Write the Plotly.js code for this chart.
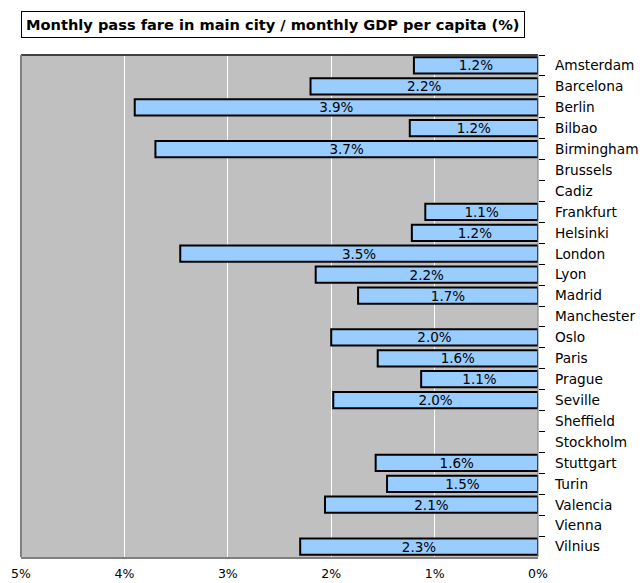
<!DOCTYPE html>
<html><head><meta charset="utf-8">
<script src="https://cdn.plot.ly/plotly-3.0.1.min.js"></script>
<style>html,body{margin:0;padding:0;background:#fff}</style>
</head><body>
<div id="chart" style="width:640px;height:583px"></div>
<script>
const cities = ["Amsterdam","Barcelona","Berlin","Bilbao","Birmingham","Brussels","Cadiz","Frankfurt","Helsinki","London","Lyon","Madrid","Manchester","Oslo","Paris","Prague","Seville","Sheffield","Stockholm","Stuttgart","Turin","Valencia","Vienna","Vilnius"];
const ratio = [1.2,2.2,3.9,1.24,3.7,null,null,1.09,1.22,3.46,2.15,1.74,null,2.0,1.55,1.13,1.98,null,null,1.57,1.46,2.06,null,2.3];
const labels = ["1.2%","2.2%","3.9%","1.2%","3.7%","","","1.1%","1.2%","3.5%","2.2%","1.7%","","2.0%","1.6%","1.1%","2.0%","","","1.6%","1.5%","2.1%","","2.3%"];
const xTicks = [0,1,2,3,4,5];
const xTickText = ["0%","1%","2%","3%","4%","5%"];
const titleText = "Monthly pass fare in main city / monthly GDP per capita (%)";

const font = "DejaVu Sans, Verdana, sans-serif";
Plotly.newPlot("chart", [{
  type: "bar", orientation: "h",
  y: cities, x: ratio, text: labels,
  textposition: "inside", insidetextanchor: "middle", textangle: 0,
  constraintext: "none",
  textfont: {family: font, size: 13.5, color: "#000"},
  marker: {color: "#99CCFF", line: {color: "#000", width: 2}},
  hoverinfo: "none"
}], {
  width: 640, height: 583,
  margin: {l: 21, r: 102, t: 55, b: 26},
  paper_bgcolor: "#fff", plot_bgcolor: "#C0C0C0",
  bargap: 0.22, showlegend: false,
  font: {family: font, size: 13, color: "#000"},
  xaxis: {
    range: [5, 0], tickvals: xTicks, ticktext: xTickText,
    showgrid: true, gridcolor: "#fff", gridwidth: 1,
    zeroline: false, showline: true, linecolor: "#808080", linewidth: 2, mirror: false,
    ticks: "", ticklabelstandoff: 4,
    tickfont: {family: font, size: 12.5, color: "#000"}
  },
  yaxis: {
    type: "category", categoryorder: "array", categoryarray: cities,
    autorange: "reversed", side: "right",
    ticks: "outside", tickson: "boundaries", ticklen: 6, tickcolor: "#000", tickwidth: 1,
    ticklabelstandoff: 16,
    showline: false, showgrid: false, zeroline: false,
    tickfont: {family: font, size: 13.7, color: "#000"}
  },
  shapes: [
    {type: "line", xref: "paper", yref: "paper", x0: 0, x1: 1, y0: 1, y1: 1, line: {color: "#404040", width: 2}},
    {type: "line", xref: "paper", yref: "paper", x0: 0, x1: 0, y0: 0, y1: 1, line: {color: "#808080", width: 2}},
    {type: "line", xref: "paper", yref: "paper", x0: 1, x1: 1, y0: 0, y1: 1, line: {color: "#808080", width: 1}}
  ],
  annotations: [{
    text: "<b>" + titleText + "</b>", xref: "paper", yref: "paper",
    x: 0, y: 1, xanchor: "left", yanchor: "bottom", yshift: 17,
    showarrow: false, bordercolor: "#000", borderwidth: 1, borderpad: 4,
    bgcolor: "#fff", font: {family: font, size: 14.6, color: "#000"}
  }]
}, {staticPlot: true});
</script>
</body></html>
